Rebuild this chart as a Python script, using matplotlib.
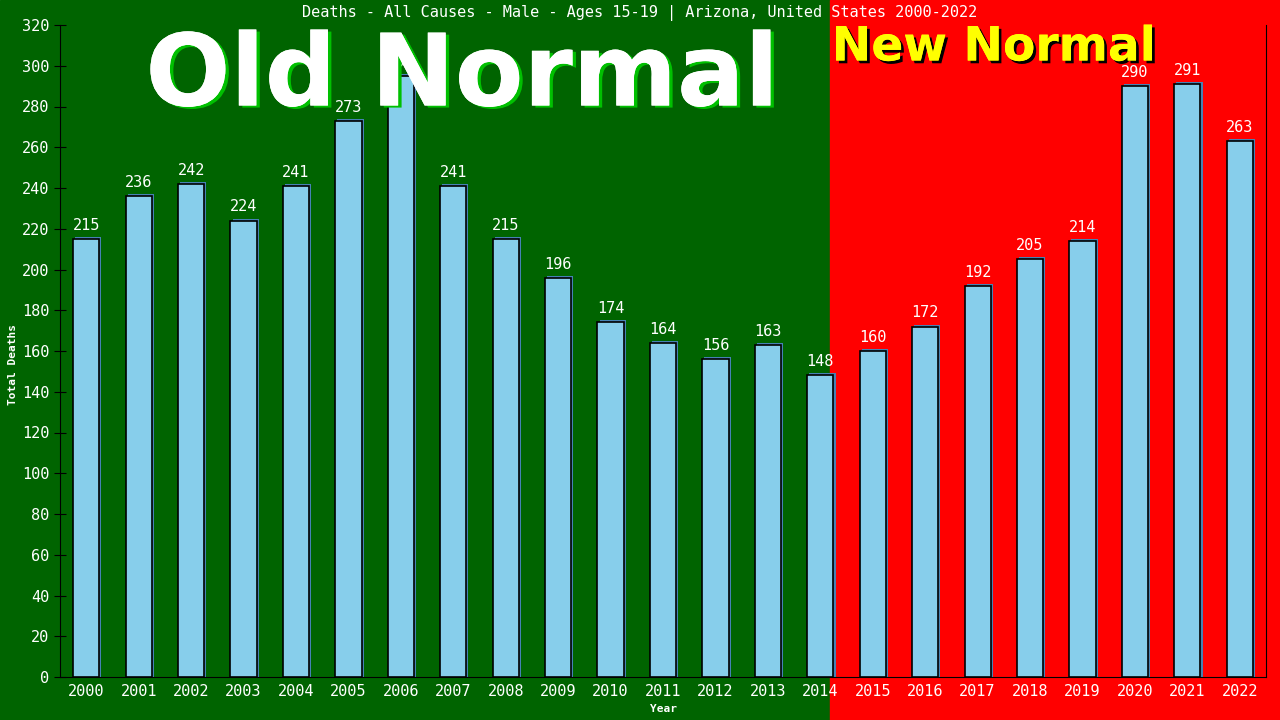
import matplotlib.pyplot as plt
from matplotlib.patches import Rectangle
import matplotlib.patheffects as pe

years = [str(y) for y in range(2000, 2023)]
deaths = [215, 236, 242, 224, 241, 273, 295, 241, 215, 196, 174, 164,
          156, 163, 148, 160, 172, 192, 205, 214, 290, 291, 263]

mono = 'DejaVu Sans Mono'

fig = plt.figure(figsize=(12.8, 7.2), dpi=100)
# background halves
split_x = 830 / 1280
fig.patches.append(Rectangle((0, 0), split_x, 1, transform=fig.transFigure,
                             color='#006400', zorder=-10))
fig.patches.append(Rectangle((split_x, 0), 1 - split_x, 1, transform=fig.transFigure,
                             color='#ff0000', zorder=-10))

ax = fig.add_axes([60 / 1280, 43 / 720, 1206 / 1280, 652 / 720])
ax.set_facecolor('none')

x = list(range(len(years)))
# shadow then main bars
ax.bar([i + 0.04 for i in x], [d + 1 for d in deaths], width=0.5,
       color='#4682b4', zorder=2)
ax.bar(x, deaths, width=0.5, color='#87ceeb', edgecolor='black',
       linewidth=1.2, zorder=3)

for i, d in zip(x, deaths):
    ax.text(i, d + 3, str(d), ha='center', va='bottom', color='white',
            fontsize=11, family=mono, zorder=4)

ax.set_xlim(-0.5, len(years) - 0.5)
ax.set_ylim(0, 320)
ax.set_yticks(range(0, 321, 20))
ax.set_xticks(x)
ax.set_xticklabels(years)
ax.tick_params(axis='y', direction='inout', length=8, colors='black',
               labelcolor='white', labelsize=11)
ax.tick_params(axis='x', length=0, labelcolor='white', labelsize=11, pad=5)
for lab in ax.get_xticklabels() + ax.get_yticklabels():
    lab.set_family(mono)

for s in ['left', 'bottom', 'right']:
    ax.spines[s].set_color('black')
ax.spines['top'].set_visible(False)

ax.set_xlabel('Year', color='white', fontsize=8, family=mono, fontweight='bold',
              labelpad=4)
ax.set_ylabel('Total Deaths', color='white', fontsize=8, family=mono,
              fontweight='bold')
ax.yaxis.set_label_coords(-42 / 1206, 0.48)

fig.text(0.5, 1 - 13 / 720, 'Deaths - All Causes - Male - Ages 15-19 | Arizona, United States 2000-2022',
         ha='center', va='center', color='white', fontsize=11, family=mono)

fig.text(462 / 1280, 1 - 78 / 720, 'Old Normal', ha='center', va='center',
         color='white', fontsize=72, fontweight='bold', family='DejaVu Sans',
         zorder=10,
         path_effects=[pe.withSimplePatchShadow(offset=(2.5, -1.5), shadow_rgbFace='#00c000', alpha=1),
                       pe.Normal()])
fig.text(994 / 1280, 1 - 48 / 720, 'New Normal', ha='center', va='center',
         color='#ffff00', fontsize=34, fontweight='bold', family='DejaVu Sans',
         zorder=10,
         path_effects=[pe.withSimplePatchShadow(offset=(2, -2), shadow_rgbFace='black', alpha=1),
                       pe.Normal()])

fig.savefig('out.png', dpi=100)
